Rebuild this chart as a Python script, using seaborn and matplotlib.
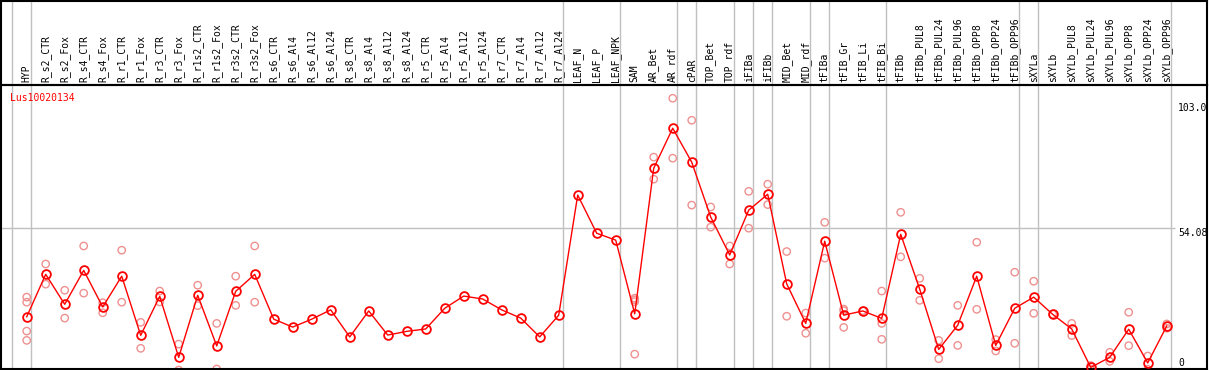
import numpy as np
import pandas as pd
import seaborn as sns
import matplotlib.pyplot as plt

# données
categories = [
    "HYP", "R_s2_CTR", "R_s2_Fox", "R_s4_CTR", "R_s4_Fox", "R_r1_CTR", "R_r1_Fox",
    "R_r3_CTR", "R_r3_Fox", "R_r1s2_CTR", "R_r1s2_Fox", "R_r3s2_CTR", "R_r3s2_Fox",
    "R_s6_CTR", "R_s6_Al4", "R_s6_Al12", "R_s6_Al24", "R_s8_CTR", "R_s8_Al4",
    "R_s8_Al12", "R_s8_Al24", "R_r5_CTR", "R_r5_Al4", "R_r5_Al12", "R_r5_Al24",
    "R_r7_CTR", "R_r7_Al4", "R_r7_Al12", "R_r7_Al24", "LEAF_N", "LEAF_P", "LEAF_NPK",
    "SAM", "AR_Bet", "AR_rdf", "cPAR", "TOP_Bet", "TOP_rdf", "iFIBa", "iFIBb",
    "MID_Bet", "MID_rdf", "tFIBa", "tFIB_Gr", "tFIB_Li", "tFIB_Bi", "tFIBb",
    "tFIBb_PUL8", "tFIBb_PUL24", "tFIBb_PUL96", "tFIBb_OPP8", "tFIBb_OPP24",
    "tFIBb_OPP96", "sXYLa", "sXYLb", "sXYLb_PUL8", "sXYLb_PUL24", "sXYLb_PUL96",
    "sXYLb_OPP8", "sXYLb_OPP24", "sXYLb_OPP96",
]

means = [
    20.6, 36.6, 25.3, 38.1, 24.3, 35.9, 13.6, 28.3, 5.3, 28.7, 9.6, 30.2, 36.6,
    19.7, 16.7, 19.7, 23.2, 13.0, 22.8, 13.7, 15.1, 16.0, 23.8, 28.4, 27.3,
    23.2, 20.1, 13.0, 21.2, 66.5, 52.1, 49.5,
    21.7, 76.6, 91.7, 78.9, 58.2, 43.9, 60.8, 66.8,
    33.0, 18.1, 49.1, 21.2, 22.8, 20.0, 51.7,
    31.0, 8.3, 17.4, 35.9, 9.8, 23.8, 28.0, 21.5, 16.0, 1.5, 5.3,
    15.9, 3.2, 17.1,
]

replicates = [
    [28.0, 26.1, 15.2, 11.7], [40.5, 32.9], [30.6, 20.1], [47.3, 29.5], [25.9, 22.1],
    [45.7, 26.1], [18.5, 8.7], [30.3, 26.2], [10.3, 0.5], [32.5, 24.8], [18.1, 0.9],
    [35.9, 24.9], [47.3, 26.1],
    [], [], [], [], [], [], [], [], [], [], [], [], [], [], [], [], [], [], [],
    [27.6, 27.0, 26.3, 6.5], [80.8, 72.5], [103.0, 80.4], [94.7, 62.7], [62.0, 54.4],
    [47.3, 40.5], [67.9, 54.0], [70.6, 62.9], [45.2, 20.8], [22.0, 14.4], [56.2, 42.7],
    [23.5, 22.9, 16.6], [22.9], [30.3, 18.1, 12.1], [60.0, 43.2], [35.1, 26.8],
    [11.7, 4.8], [24.9, 9.8], [48.7, 23.4], [12.0, 7.7], [37.4, 10.6], [34.0, 21.9],
    [21.6], [18.1, 13.5], [2.2, 0.9], [7.2, 3.8], [22.3, 9.7], [5.8, 0.8], [16.3, 17.9],
]

gene_id = "Lus10020134"
scale_labels = ["103.0", "54.08", "0"]
group_ends = [-1, 0, 28, 31, 34, 35, 37, 38, 39, 41, 42, 45, 52, 53, 60]

x = np.arange(len(categories))
df_mean = pd.DataFrame({"x": x, "val": means})
df_rep = pd.DataFrame(
    [(i, v) for i, reps in enumerate(replicates) for v in reps], columns=["x", "val"]
)

mono = "DejaVu Sans Mono"
W, H = 1209, 370
fig = plt.figure(figsize=(W / 100, H / 100), dpi=100, facecolor="white")

# zone du graphique
ax = fig.add_axes([1 / W, 1 / H, 1206 / W, 284 / H])
# zone d'entête (noms des échantillons)
ax_h = fig.add_axes([1 / W, 285 / H, 1206 / W, 84 / H], facecolor="none")

xlim = (-1.353, 62.12)
ax.set_xlim(*xlim)
ax.set_ylim(0.905, 108.0)
ax_h.set_xlim(*xlim)
ax_h.set_ylim(0, 1)

for a in (ax, ax_h):
    for s in a.spines.values():
        s.set_color("black")
        s.set_linewidth(1.5)
    for g in group_ends:
        a.axvline(g + 0.2, color="#c0c0c0", lw=1.0, zorder=0)

ax_h.set_xticks([])
ax_h.set_yticks([])

ax.hlines(54.08, xlim[0], 60.44, color="#c0c0c0", lw=1.0, zorder=0)

sns.scatterplot(data=df_rep, x="x", y="val", ax=ax, marker="o", s=28,
                facecolor="none", edgecolor="#ef9090", linewidth=1.0, zorder=2,
                legend=False)
sns.lineplot(data=df_mean, x="x", y="val", ax=ax, color="red", lw=1.0,
             marker="o", markersize=6.3, markerfacecolor="none",
             markeredgecolor="red", markeredgewidth=1.3, zorder=3)

ax.xaxis.tick_top()
ax.set_xticks(x)
ax.set_xticklabels(categories, rotation=90, fontsize=7, family=mono)
ax.tick_params(axis="x", length=0, pad=2)
ax.set_yticks([])
ax.set_xlabel("")
ax.set_ylabel("")

# repères de l'échelle à droite
label_pos = [101.2, 54.08, 5.05]
for v, lab in zip(label_pos, scale_labels):
    ax.text(60.6, v, lab, ha="left", va="top", fontsize=7, family=mono, color="black")

ax.text(9 / 1206, 0.955, gene_id, transform=ax.transAxes, ha="left", va="center",
        fontsize=7, family=mono, color="red")

fig.savefig("out.png", dpi=100)
